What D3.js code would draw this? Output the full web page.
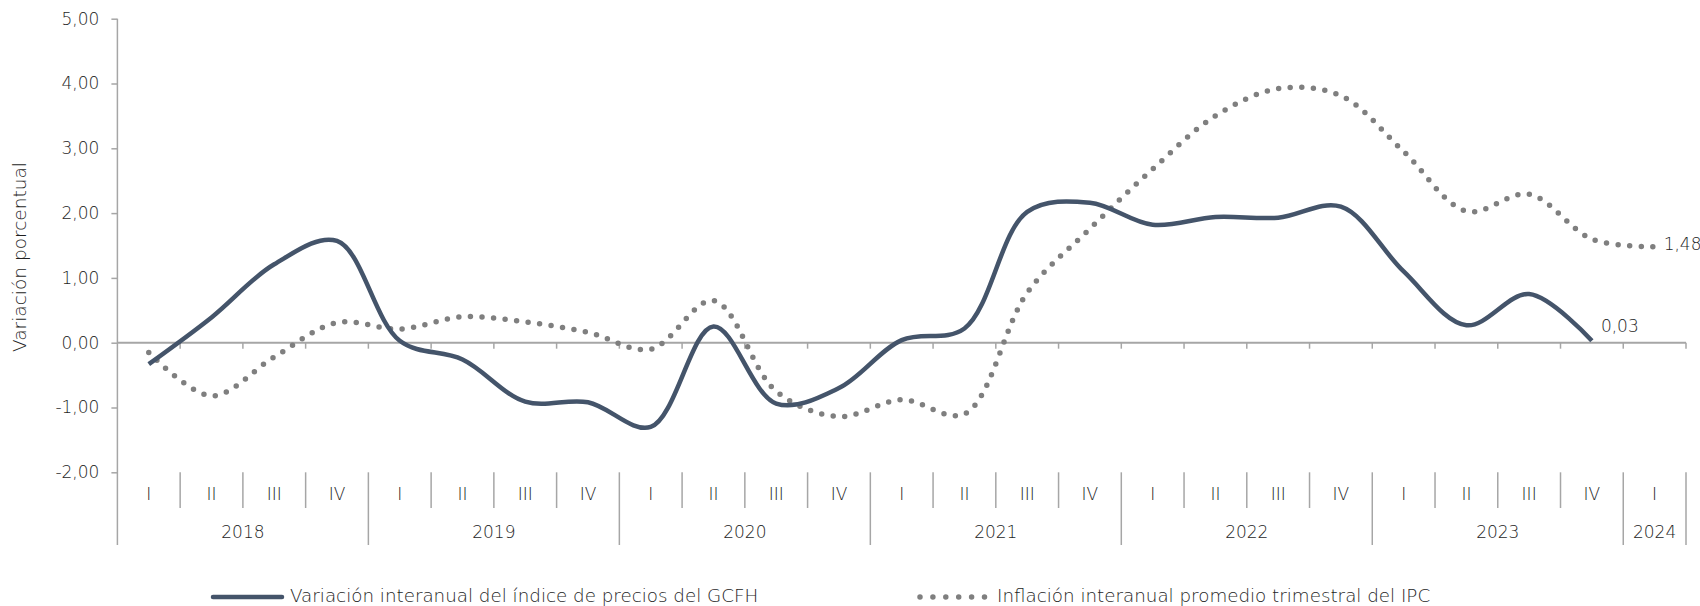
<!DOCTYPE html>
<meta charset="utf-8">
<script src="https://d3js.org/d3.v7.min.js"></script>
<style>
  body { margin: 0; background: #fff; }
  text { font-family: "DejaVu Sans", sans-serif; font-weight: 200; fill: #1e1e1e; }
</style>
<div id="chart"></div>
<script>

// categories
var years = ["2018", "2019", "2020", "2021", "2022", "2023", "2024"];
var quarterLabels = ["I", "II", "III", "IV"];

// series values (variación porcentual)
var gcfh = [-0.33, 0.39, 1.21, 1.57, 0.03, -0.26, -0.91, -0.92,
            -1.30, 0.25, -0.94, -0.70, 0.04, 0.22, 2.02, 2.16,
            1.82, 1.94, 1.93, 2.10, 1.10, 0.27, 0.75, 0.03];
var ipc  = [-0.15, -0.82, -0.22, 0.31, 0.21, 0.40, 0.32, 0.16,
            -0.10, 0.65, -0.75, -1.14, -0.88, -1.10, 0.77, 1.76,
            2.68, 3.50, 3.92, 3.81, 2.95, 2.03, 2.29, 1.60, 1.48];

var yTicks = [-2, -1, 0, 1, 2, 3, 4, 5];
var seriesNames = ["Variación interanual del índice de precios del GCFH",
                   "Inflación interanual promedio trimestral del IPC"];

// build the category list: 2018-I ... 2024-I
var categories = [];
years.forEach(function(yr) {
  quarterLabels.forEach(function(q) {
    if (categories.length < 25) categories.push({ key: yr + "-" + q, year: yr, q: q });
  });
});
var keys = categories.map(function(d) { return d.key; });

var width = 1700, height = 606;
var svg = d3.select("#chart").append("svg")
    .attr("width", width)
    .attr("height", height);

var x = d3.scaleBand()
    .domain(keys)
    .range([117.4, 1686]);

var y = d3.scaleLinear()
    .domain([-2, 5])
    .range([472.3, 18.7]);

var axisColor = "#a6a6a6";
var quarterBottom = 508, yearBottom = 545;
// comma decimals and a plain hyphen for negatives
var fmt = function(v) { return d3.format(".2f")(v).replace(".", ",").replace("\u2212", "-"); };

// Y axis
var yAxis = svg.append("g")
    .attr("transform", "translate(117.4,0)")
    .call(d3.axisLeft(y).tickValues(yTicks).tickSize(6).tickPadding(12).tickFormat(fmt));
yAxis.select(".domain").remove();
yAxis.selectAll("line").attr("stroke", axisColor).attr("stroke-width", 1.5);
yAxis.selectAll("text").attr("font-size", 17).attr("font-family", "DejaVu Sans").attr("fill", "#1e1e1e");

svg.append("line")
    .attr("x1", 117.4).attr("x2", 117.4)
    .attr("y1", y(5)).attr("y2", yearBottom)
    .attr("stroke", axisColor).attr("stroke-width", 1.5);

// axis title
svg.append("text")
    .attr("transform", "translate(21," + 257 + ") rotate(-90)")
    .attr("text-anchor", "middle")
    .attr("dominant-baseline", "middle")
    .attr("font-size", 18.5)
    .text("Variación porcentual");

// zero line with small ticks at band boundaries
svg.append("line")
    .attr("x1", x.range()[0]).attr("x2", x.range()[1])
    .attr("y1", y(0)).attr("y2", y(0))
    .attr("stroke", axisColor).attr("stroke-width", 2);

var bounds = keys.map(function(k) { return x(k); }).concat([x.range()[1]]);
svg.selectAll(".zt").data(bounds.slice(1)).enter().append("line")
    .attr("class", "zt")
    .attr("x1", function(d) { return d; }).attr("x2", function(d) { return d; })
    .attr("y1", y(0)).attr("y2", y(0) + 6)
    .attr("stroke", axisColor).attr("stroke-width", 1.5);

// category separators
svg.selectAll(".sep").data(categories.slice(1)).enter().append("line")
    .attr("class", "sep")
    .attr("x1", function(d) { return x(d.key); })
    .attr("x2", function(d) { return x(d.key); })
    .attr("y1", y(-2))
    .attr("y2", function(d) { return d.q === "I" ? yearBottom : quarterBottom; })
    .attr("stroke", axisColor).attr("stroke-width", 1.5);

svg.append("line")
    .attr("x1", x.range()[1]).attr("x2", x.range()[1])
    .attr("y1", y(-2)).attr("y2", yearBottom)
    .attr("stroke", axisColor).attr("stroke-width", 1.5);

// quarter labels
svg.selectAll(".ql").data(categories).enter().append("text")
    .attr("class", "ql")
    .attr("x", function(d) { return x(d.key) + x.bandwidth() / 2; })
    .attr("y", 495)
    .attr("text-anchor", "middle")
    .attr("dominant-baseline", "middle")
    .attr("font-size", 17)
    .text(function(d) { return d.q; });

// year labels
svg.selectAll(".yl").data(years).enter().append("text")
    .attr("class", "yl")
    .attr("x", function(yr) {
      var ks = categories.filter(function(c) { return c.year === yr; });
      var a = x(ks[0].key), b = x(ks[ks.length - 1].key) + x.bandwidth();
      return (a + b) / 2;
    })
    .attr("y", 533)
    .attr("text-anchor", "middle")
    .attr("dominant-baseline", "middle")
    .attr("font-size", 17)
    .text(function(yr) { return yr; });

// lines
var line = d3.line()
    .x(function(d, i) { return x(keys[i]) + x.bandwidth() / 2; })
    .y(function(d) { return y(d); })
    .curve(d3.curveCatmullRom.alpha(0.5));

svg.append("path")
    .datum(ipc)
    .attr("fill", "none")
    .attr("stroke", "#7f7f7f")
    .attr("stroke-width", 5.5)
    .attr("stroke-linecap", "round")
    .attr("stroke-dasharray", "0 11.6")
    .attr("d", line);

svg.append("path")
    .datum(gcfh)
    .attr("fill", "none")
    .attr("stroke", "#44546a")
    .attr("stroke-width", 4.5)
    .attr("stroke-linejoin", "round")
    .attr("d", line);

// end labels
var lastG = gcfh.length - 1, lastI = ipc.length - 1;
svg.append("text")
    .attr("x", x(keys[lastG]) + x.bandwidth() / 2 + 9)
    .attr("y", y(gcfh[lastG]) - 14)
    .attr("dominant-baseline", "middle")
    .attr("font-size", 17)
    .text(fmt(gcfh[lastG]));
svg.append("text")
    .attr("x", x(keys[lastI]) + x.bandwidth() / 2 + 9)
    .attr("y", y(ipc[lastI]) - 2)
    .attr("dominant-baseline", "middle")
    .attr("font-size", 17)
    .text(fmt(ipc[lastI]));

// legend
var legY = 597;
svg.append("line")
    .attr("x1", 213).attr("x2", 282).attr("y1", legY).attr("y2", legY)
    .attr("stroke", "#44546a").attr("stroke-width", 4.5).attr("stroke-linecap", "round");
svg.append("text")
    .attr("x", 290).attr("y", legY)
    .attr("dominant-baseline", "middle")
    .attr("font-size", 18.3)
    .text(seriesNames[0]);

svg.append("line")
    .attr("x1", 920).attr("x2", 985).attr("y1", legY).attr("y2", legY)
    .attr("stroke", "#7f7f7f").attr("stroke-width", 5.5)
    .attr("stroke-linecap", "round").attr("stroke-dasharray", "0 12.9");
svg.append("text")
    .attr("x", 997).attr("y", legY)
    .attr("dominant-baseline", "middle")
    .attr("font-size", 18.3)
    .text(seriesNames[1]);

</script>
